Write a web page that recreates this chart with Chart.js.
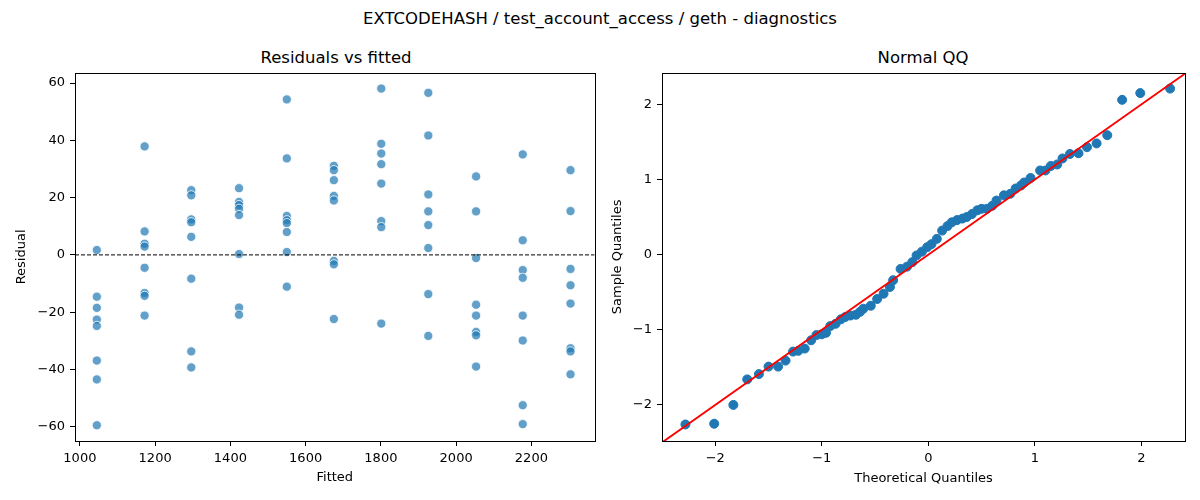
<!DOCTYPE html>
<html lang="en">
<head>
  <meta charset="UTF-8"/>
  <title>EXTCODEHASH diagnostics</title>
  <script src="https://cdn.jsdelivr.net/npm/chart.js"></script>
  <style>
    body { margin: 0; background: #fff; font-family: "DejaVu Sans", sans-serif; }
    #page { position: relative; width: 1200px; height: 500px; overflow: hidden; }
    .txt { position: absolute; white-space: nowrap; color: #000; transform: translate(-50%, -50%); }
    .suptitle { font-size: 16.5px; left: 600px; top: 18px; }
    .subtitle { font-size: 16.5px; top: 57px; }
    canvas { position: absolute; top: 60px; }
  </style>
</head>
<body>
<div id="page">
  <div class="txt suptitle">EXTCODEHASH / test_account_access / geth - diagnostics</div>
  <div class="txt subtitle" style="left:336px">Residuals vs fitted</div>
  <div class="txt subtitle" style="left:923px">Normal QQ</div>
  <canvas id="resid" width="600" height="440" style="left:0"></canvas>
  <canvas id="qq" width="600" height="440" style="left:600px"></canvas>
</div>
<script>
  // residuals vs fitted, one column of residuals per fitted level
  const fittedLevels = [1045, 1172, 1296, 1423, 1550, 1675, 1801, 1926, 2053, 2177, 2304];
  const residualsByLevel = [
    [1.7, -14.6, -18.5, -22.6, -24.8, -36.9, -43.5, -59.5],
    [37.9, 8.2, 3.9, 2.9, -4.5, -13.3, -14.3, -21.2],
    [22.6, 20.8, 12.4, 11.4, 6.3, -8.3, -33.7, -39.3],
    [23.3, 18.5, 17.4, 16.1, 13.9, 0.3, -18.4, -20.9],
    [54.3, 33.7, 13.6, 12.1, 11.1, 8.0, 1.0, -11.1],
    [31.1, 29.6, 26.1, 20.6, 19.0, -2.1, -3.3, -22.4],
    [58.1, 38.8, 35.4, 31.7, 24.9, 11.8, 9.7, -24.0],
    [56.6, 41.7, 21.1, 15.2, 10.4, 2.4, -13.7, -28.3],
    [27.4, 15.2, -1.1, -17.4, -21.2, -26.9, -28.1, -39.0],
    [35.1, 5.1, -5.3, -8.0, -21.2, -29.9, -52.5, -59.1],
    [29.6, 15.3, -4.9, -10.6, -17.0, -32.6, -33.7, -41.7]
  ];
  const residXTicks = [1000, 1200, 1400, 1600, 1800, 2000, 2200];
  const residYTicks = [-60, -40, -20, 0, 20, 40, 60];

  // normal QQ
  const theoreticalQ = [-2.28, -2.01, -1.83, -1.70, -1.59, -1.50, -1.41, -1.34, -1.27, -1.22,
    -1.16, -1.10, -1.05, -1.00, -0.96, -0.92, -0.87, -0.82, -0.78, -0.73,
    -0.68, -0.64, -0.61, -0.54, -0.48, -0.42, -0.36, -0.33, -0.26, -0.20,
    -0.15, -0.11, -0.06, -0.01, 0.03, 0.08, 0.13, 0.18, 0.22, 0.27,
    0.32, 0.36, 0.41, 0.46, 0.50, 0.55, 0.60, 0.64, 0.71, 0.77,
    0.82, 0.87, 0.90, 0.96, 1.05, 1.10, 1.15, 1.21, 1.26, 1.33,
    1.41, 1.49, 1.58, 1.68, 1.82, 1.99, 2.27];
  const sampleQ = [-2.26, -2.25, -2.00, -1.66, -1.59, -1.49, -1.49, -1.41, -1.29, -1.28,
    -1.25, -1.14, -1.07, -1.06, -1.04, -0.95, -0.92, -0.86, -0.83, -0.81,
    -0.80, -0.76, -0.72, -0.68, -0.59, -0.52, -0.43, -0.34, -0.19, -0.16,
    -0.10, -0.01, 0.04, 0.10, 0.14, 0.21, 0.32, 0.38, 0.43, 0.46,
    0.48, 0.50, 0.54, 0.59, 0.61, 0.61, 0.65, 0.72, 0.79, 0.81,
    0.88, 0.92, 0.96, 1.02, 1.12, 1.12, 1.18, 1.20, 1.28, 1.34,
    1.35, 1.43, 1.48, 1.59, 2.06, 2.15, 2.21];
  const qqTicks = [-2, -1, 0, 1, 2];

  Chart.defaults.font.family = "'DejaVu Sans', sans-serif";
  Chart.defaults.font.size = 13;
  Chart.defaults.color = "#000";

  const minus = v => String(v).replace("-", "\u2212");

  // black box round the plot area, like matplotlib spines
  const frame = {
    id: "frame",
    afterDatasetsDraw(chart) {
      const { ctx, chartArea: a } = chart;
      ctx.save();
      ctx.strokeStyle = "#000";
      ctx.lineWidth = 1;
      ctx.strokeRect(Math.round(a.left) + 0.5, Math.round(a.top) + 0.5,
        Math.round(a.width), Math.round(a.height));
      ctx.restore();
    }
  };

  function axis(opts) {
    return {
      type: "linear",
      min: opts.min,
      max: opts.max,
      afterBuildTicks: s => { s.ticks = opts.ticks.map(v => ({ value: v })); },
      afterFit: s => { if (opts.width) s.width = opts.width; if (opts.height) s.height = opts.height; },
      ticks: { padding: 5, callback: v => minus(v), maxRotation: 0 },
      grid: { drawOnChartArea: false, drawTicks: true, tickLength: 5, color: "#000" },
      border: { display: false },
      title: { display: true, text: opts.title, padding: opts.titlePad }
    };
  }

  const residPoints = [];
  fittedLevels.forEach((f, i) => {
    residualsByLevel[i].forEach(r => residPoints.push({ x: f, y: r }));
  });

  new Chart(document.getElementById("resid"), {
    type: "scatter",
    data: {
      datasets: [
        {
          type: "line",
          data: [{ x: 987, y: 0 }, { x: 2368, y: 0 }],
          borderColor: "#000",
          borderWidth: 1,
          borderDash: [4, 2],
          pointRadius: 0
        },
        {
          data: residPoints,
          backgroundColor: "rgba(31,119,180,0.7)",
          borderColor: "#fff",
          borderWidth: 0.8,
          pointRadius: 4.6
        }
      ]
    },
    options: {
      responsive: false,
      animation: false,
      devicePixelRatio: 1,
      layout: { padding: { top: 11, right: 3, left: 0, bottom: 0 } },
      plugins: { legend: { display: false }, tooltip: { enabled: false } },
      scales: {
        x: axis({ min: 987, max: 2368, ticks: residXTicks, height: 59, title: "Fitted", titlePad: { bottom: 15 } }),
        y: axis({ min: -65, max: 63.6, ticks: residYTicks, width: 75, title: "Residual", titlePad: { top: 14 } })
      }
    },
    plugins: [frame]
  });

  new Chart(document.getElementById("qq"), {
    type: "scatter",
    data: {
      datasets: [
        {
          type: "line",
          data: [{ x: -2.5, y: -2.5 }, { x: 2.42, y: 2.42 }],
          borderColor: "#ff0000",
          borderWidth: 1.9,
          pointRadius: 0
        },
        {
          data: theoreticalQ.map((t, i) => ({ x: t, y: sampleQ[i] })),
          backgroundColor: "#1f77b4",
          borderColor: "#1f77b4",
          borderWidth: 1,
          pointRadius: 4.5
        }
      ]
    },
    options: {
      responsive: false,
      animation: false,
      devicePixelRatio: 1,
      layout: { padding: { top: 11, right: 15, left: 0, bottom: 0 } },
      plugins: { legend: { display: false }, tooltip: { enabled: false } },
      scales: {
        x: axis({ min: -2.5, max: 2.41, ticks: qqTicks, height: 59, title: "Theoretical Quantiles", titlePad: { bottom: 14 } }),
        y: axis({ min: -2.48, max: 2.42, ticks: qqTicks, width: 62, title: "Sample Quantiles", titlePad: { top: 10 } })
      }
    },
    plugins: [frame]
  });
</script>
</body>
</html>
